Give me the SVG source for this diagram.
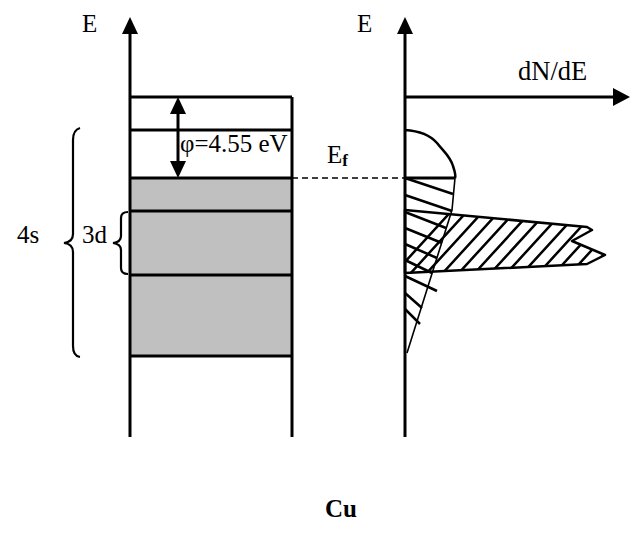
<svg xmlns="http://www.w3.org/2000/svg" width="635" height="549" viewBox="0 0 635 549">
<style>
.t{font-family:"Liberation Serif","Times New Roman",serif;font-size:25px;fill:#000}
.k{stroke:#000;stroke-width:3;fill:none}
.th{stroke:#000;stroke-width:1.6;fill:none}
.h{stroke:#000;stroke-width:2.5;fill:none;stroke-linecap:butt}
.br{stroke:#000;stroke-width:2.2;fill:none}
</style>
<defs>
<clipPath id="dclip"><polygon points="405,210 587,227 592,230 572,241 605,255 587,264 405,273"/></clipPath>
</defs>
<rect width="635" height="549" fill="#fff"/>

<g id="band-diagram">
<rect x="130" y="178" width="162" height="178" fill="#c0c0c0"/>
<path class="k" d="M130,97H292M130,130H292M130,178H292M130,211H292M130,275H292M130,356H292M292,97V437"/>
</g>

<g id="connectors">
<path class="k" d="M130,32V437"/>
<polygon points="130,17 122,34 138,34"/>
<path class="k" d="M405,32V437"/>
<polygon points="405,17 397,34 413,34"/>
<path class="k" d="M405,97H615"/>
<polygon points="630,97 613,88 613,106"/>
<path class="k" d="M178,111V164"/>
<polygon points="178,97 170,114 186,114"/>
<polygon points="178,178 170,161 186,161"/>
<path d="M292,178H405" stroke="#000" stroke-width="1.6" stroke-dasharray="6,4"/>
</g>

<g id="dos">
<path d="M405,130 C420,131 430,135 437,143 C444,152 450,156 453,166 C455,172 456,176 455,178" stroke="#000" stroke-width="2.5" fill="none"/>
<path class="th" d="M455,178 L452,210 L407,353"/>
<path d="M405,178H455" stroke="#000" stroke-width="3"/>
<polygon points="405,210 587,227 592,230 572,241 605,255 587,264 405,273" stroke="#000" stroke-width="2.5" fill="none" stroke-linejoin="round"/>
<g clip-path="url(#dclip)">
<path class="h" d="M393,275l64,-70M409,275l64,-70M425,275l64,-70M441,275l64,-70M457,275l64,-70M473,275l64,-70M489,275l64,-70M505,275l64,-70M521,275l64,-70M537,275l64,-70M553,275l64,-70M569,275l64,-70M585,275l64,-70"/>
</g>
<path class="h" d="M405,178L453,194M405,195L452,211M405,212L446,228M405,228L442,243M405,244L437,258M405,260L432,273M405,276L437,291M405,293L422,308M405,309L420,324"/>
</g>

<g id="braces">
<path class="br" d="M80,128 Q73,130 73,140 L73,234 Q73,242 64,243 Q73,244 73,252 L73,346 Q73,356 80,357"/>
<path class="br" d="M128,212 Q121,212 121,218 L121,236 Q121,242 113,243 Q121,244 121,250 L121,268 Q121,274 128,274"/>
</g>

<g id="labels">
<text class="t" x="82" y="32">E</text>
<text class="t" x="357" y="32">E</text>
<text class="t" x="518" y="80" style="font-size:26.5px">dN/dE</text>
<text class="t" x="180" y="152">φ=4.55 eV</text>
<text class="t" x="327" y="163">E<tspan dy="3" style="font-size:17px;font-weight:bold">f</tspan></text>
<text class="t" x="17" y="243">4s</text>
<text class="t" x="82" y="243">3d</text>
<text class="t" x="325" y="517" style="font-weight:bold;font-size:25px">Cu</text>
</g>
</svg>
